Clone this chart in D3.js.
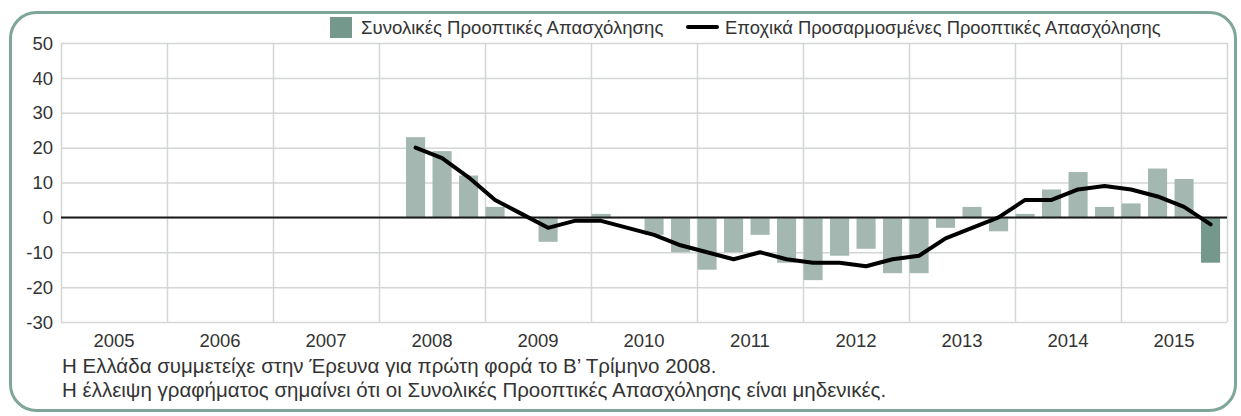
<!DOCTYPE html>
<html>
<head>
<meta charset="utf-8">
<script src="https://cdn.jsdelivr.net/npm/d3@7"></script>
<style>
  html, body { margin: 0; padding: 0; background: #ffffff; }
  svg { display: block; font-family: "Liberation Sans", Arial, sans-serif; }
</style>
</head>
<body>
<div id="chart"></div>
<script>
// quarters with data (Greece joined in Q2 2008)
const quarters = [
  "2008Q2", "2008Q3", "2008Q4",
  "2009Q1", "2009Q2", "2009Q3", "2009Q4",
  "2010Q1", "2010Q2", "2010Q3", "2010Q4",
  "2011Q1", "2011Q2", "2011Q3", "2011Q4",
  "2012Q1", "2012Q2", "2012Q3", "2012Q4",
  "2013Q1", "2013Q2", "2013Q3", "2013Q4",
  "2014Q1", "2014Q2", "2014Q3", "2014Q4",
  "2015Q1", "2015Q2", "2015Q3", "2015Q4"
];

// total employment outlook (bars)
const totalOutlook = [
  23, 19, 12,
  3, 0, -7, 0,
  1, 0, -5, -10,
  -15, -10, -5, -13,
  -18, -11, -9, -16,
  -16, -3, 3, -4,
  1, 8, 13, 3,
  4, 14, 11, -13
];

// seasonally adjusted outlook (line)
const adjustedOutlook = [
  20, 17, 11.5,
  5, 1, -3, -1,
  -1, -3, -5, -8,
  -10, -12, -10, -12,
  -13, -13, -14, -12,
  -11, -6, -3, 0,
  5, 5, 8, 9,
  8, 6, 3, -2
];

const years = ["2005", "2006", "2007", "2008", "2009", "2010", "2011", "2012", "2013", "2014", "2015"];
const yTicks = [50, 40, 30, 20, 10, 0, -10, -20, -30];

const legendLabels = ["Συνολικές Προοπτικές Απασχόλησης", "Εποχικά Προσαρμοσμένες Προοπτικές Απασχόλησης"];
const notes = [
  "Η Ελλάδα συμμετείχε στην Έρευνα για πρώτη φορά το Β’ Τρίμηνο 2008.",
  "Η έλλειψη γραφήματος σημαίνει ότι οι Συνολικές Προοπτικές Απασχόλησης είναι μηδενικές."
];

const W = 1241, H = 416;
const plot = { left: 61, right: 1227, top: 43, bottom: 322 };

const svg = d3.select("#chart")
  .append("svg")
  .attr("width", W)
  .attr("height", H);

// rounded frame
svg.append("rect")
  .attr("x", 10.5)
  .attr("y", 12.5)
  .attr("width", 1225)
  .attr("height", 398)
  .attr("rx", 26)
  .attr("fill", "#ffffff")
  .attr("stroke", "#7fa69a")
  .attr("stroke-width", 3);

const x = d3.scaleLinear()
  .domain([2005, 2016])
  .range([plot.left, plot.right]);

const y = d3.scaleLinear()
  .domain([-30, 50])
  .range([plot.bottom, plot.top]);

const slot = x(2005.25) - x(2005);
const qTime = (q) => +q.slice(0, 4) + (+q.slice(5) - 1) / 4;
const barX = (q) => x(qTime(q)) + slot * 0.02;
const barW = slot * 0.72;
const centerX = (q) => barX(q) + barW / 2;

// horizontal grid
svg.append("g")
  .attr("class", "grid-y")
  .attr("transform", `translate(${plot.left},0)`)
  .call(d3.axisLeft(y).tickValues(yTicks).tickSize(-(plot.right - plot.left)).tickFormat(""))
  .call((g) => g.select(".domain").remove())
  .call((g) => g.selectAll("line").attr("stroke", "#d4d6d5").attr("stroke-width", 1.5));

// vertical year boundaries
svg.append("g")
  .attr("class", "grid-x")
  .attr("transform", `translate(0,${plot.bottom})`)
  .call(d3.axisBottom(x).tickValues(d3.range(2005, 2017)).tickSize(-(plot.bottom - plot.top)).tickFormat(""))
  .call((g) => g.select(".domain").remove())
  .call((g) => g.selectAll("line").attr("stroke", "#d4d6d5").attr("stroke-width", 1.5));

// y labels
svg.append("g")
  .selectAll("text")
  .data(yTicks)
  .join("text")
  .attr("x", 53)
  .attr("y", (d) => y(d))
  .attr("dy", "0.36em")
  .attr("text-anchor", "end")
  .attr("font-size", 18.5)
  .attr("fill", "#333333")
  .text((d) => d);

// year labels
svg.append("g")
  .selectAll("text")
  .data(years)
  .join("text")
  .attr("x", (d) => x(+d + 0.5))
  .attr("y", 347)
  .attr("text-anchor", "middle")
  .attr("font-size", 18.5)
  .attr("fill", "#333333")
  .text((d) => d);

// bars
svg.append("g")
  .selectAll("rect")
  .data(quarters)
  .join("rect")
  .attr("x", (d) => barX(d))
  .attr("width", barW)
  .attr("y", (d, i) => y(Math.max(0, totalOutlook[i])))
  .attr("height", (d, i) => Math.abs(y(totalOutlook[i]) - y(0)))
  .attr("fill", (d, i) => (i === quarters.length - 1 ? "#74998c" : "#a4b8b1"));

// zero line
svg.append("line")
  .attr("x1", plot.left)
  .attr("x2", plot.right)
  .attr("y1", y(0))
  .attr("y2", y(0))
  .attr("stroke", "#1a1a1a")
  .attr("stroke-width", 2);

// seasonally adjusted line
const line = d3.line()
  .x((d, i) => centerX(quarters[i]))
  .y((d) => y(d));

svg.append("path")
  .datum(adjustedOutlook)
  .attr("fill", "none")
  .attr("stroke", "#000000")
  .attr("stroke-width", 4)
  .attr("stroke-linejoin", "round")
  .attr("stroke-linecap", "round")
  .attr("d", line);

// legend
const legend = svg.append("g").attr("class", "legend");
legend.append("rect")
  .attr("x", 330)
  .attr("y", 17)
  .attr("width", 22)
  .attr("height", 21)
  .attr("fill", "#74998c");
legend.append("text")
  .attr("x", 361)
  .attr("y", 34)
  .attr("font-size", 18.6)
  .attr("fill", "#333333")
  .text(legendLabels[0]);
legend.append("line")
  .attr("x1", 688)
  .attr("x2", 717)
  .attr("y1", 27)
  .attr("y2", 27)
  .attr("stroke", "#000000")
  .attr("stroke-width", 4)
  .attr("stroke-linecap", "round");
legend.append("text")
  .attr("x", 725)
  .attr("y", 34)
  .attr("font-size", 18.4)
  .attr("fill", "#333333")
  .text(legendLabels[1]);

// footnotes
svg.append("g")
  .selectAll("text")
  .data(notes)
  .join("text")
  .attr("x", 62)
  .attr("y", (d, i) => 373 + i * 24)
  .attr("font-size", 20.5)
  .attr("fill", "#333333")
  .text((d) => d);
</script>
</body>
</html>
